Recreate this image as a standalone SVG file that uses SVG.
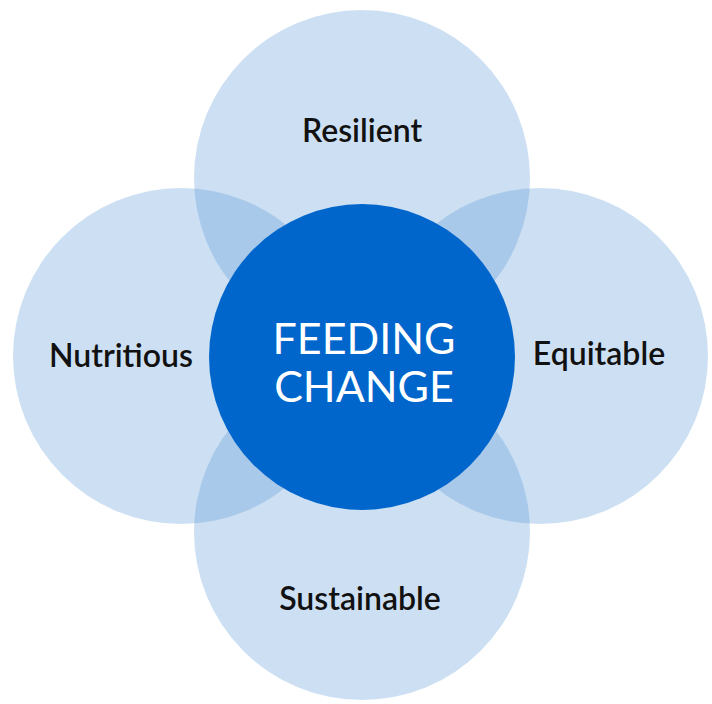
<svg xmlns="http://www.w3.org/2000/svg" width="712" height="704" viewBox="0 0 712 704">
<style>
.petal{fill:#3f88d1;fill-opacity:0.26}
.lbl{font-family:Lato,"Liberation Sans",sans-serif;font-size:32px;font-weight:600;fill:#111;text-anchor:middle}
.core{font-family:Lato,"Liberation Sans",sans-serif;font-size:43px;font-weight:400;fill:#fff;text-anchor:middle}
</style>
<rect width="712" height="704" fill="#fff"/>
<g id="resilient"><circle class="petal" cx="362" cy="178" r="168"/><text class="lbl" x="362" y="142">Resilient</text></g>
<g id="nutritious"><circle class="petal" cx="181" cy="356" r="168"/><text class="lbl" x="121" y="367">Nutritious</text></g>
<g id="equitable"><circle class="petal" cx="540" cy="356" r="168"/><text class="lbl" x="599" y="365">Equitable</text></g>
<g id="sustainable"><circle class="petal" cx="362" cy="532" r="168"/><text class="lbl" x="360" y="610">Sustainable</text></g>
<g id="center"><circle cx="362" cy="357" r="153" fill="#0066cc"/><text class="core" x="364" y="354">FEEDING</text><text class="core" x="364" y="402">CHANGE</text></g>
<g id="connectors"/>
</svg>
